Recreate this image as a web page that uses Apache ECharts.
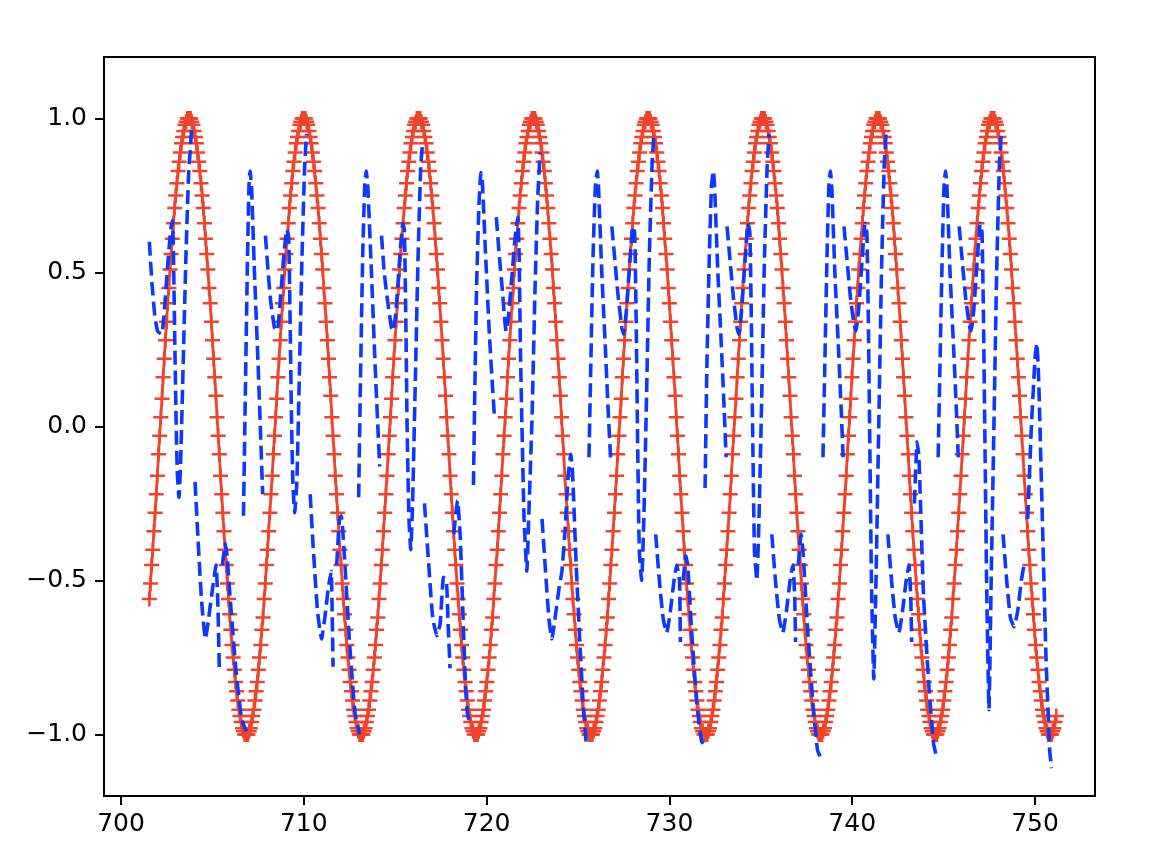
<!DOCTYPE html>
<html><head><meta charset="utf-8">
<script src="https://cdn.jsdelivr.net/npm/echarts@6/dist/echarts.min.js"></script>
<style>html,body{margin:0;padding:0;background:#fff}#c{width:1172px;height:866px}</style>
</head><body><div id="c"></div>
<script>
// tick labels
const xTicks = [700, 710, 720, 730, 740, 750];
const yTicks = [-1, -0.5, 0, 0.5, 1];

// red series: sampled at a fixed step from redStart (like np.arange)
const redStart = 701.55, redStep = 0.0628;
const redY = [
-0.56,-0.51,-0.45,-0.40,-0.34,-0.28,-0.22,-0.16,-0.09,-0.03,0.03,0.09,0.16,0.22,0.28,0.34,0.40,0.45,0.51,0.56,0.61,0.66,0.71,0.75,0.79,0.83,0.86,0.89,0.92,0.94,0.96,0.98,0.99,1.00,1.00,1.00,1.00,0.99,0.98,0.96,0.94,0.92,0.89,0.86,0.83,0.79,0.75,0.71,0.66,0.61,0.56,0.51,0.45,0.40,0.34,0.28,0.22,0.16,0.10,0.03,-0.03,-0.09,-0.16,-0.22,-0.28,-0.34,-0.40,-0.45,-0.51,-0.56,-0.61,-0.66,-0.71,-0.75,-0.79,-0.83,-0.86,-0.89,-0.92,-0.94,-0.96,-0.98,-0.99,-1.00,-1.00,-1.00,-1.00,-0.99,-0.98,-0.96,-0.94,-0.92,-0.89,-0.86,-0.83,-0.79,-0.75,-0.71,-0.66,-0.62,
-0.56,-0.51,-0.45,-0.40,-0.34,-0.28,-0.22,-0.16,-0.09,-0.03,0.03,0.09,0.16,0.22,0.28,0.34,0.40,0.45,0.51,0.56,0.61,0.66,0.71,0.75,0.79,0.83,0.86,0.89,0.92,0.94,0.96,0.98,0.99,1.00,1.00,1.00,1.00,0.99,0.98,0.96,0.94,0.92,0.89,0.86,0.83,0.79,0.75,0.71,0.66,0.61,0.56,0.51,0.45,0.40,0.34,0.28,0.22,0.16,0.10,0.03,-0.03,-0.09,-0.16,-0.22,-0.28,-0.34,-0.40,-0.45,-0.51,-0.56,-0.61,-0.66,-0.71,-0.75,-0.79,-0.83,-0.86,-0.89,-0.92,-0.94,-0.96,-0.98,-0.99,-1.00,-1.00,-1.00,-1.00,-0.99,-0.98,-0.96,-0.94,-0.92,-0.89,-0.86,-0.83,-0.79,-0.75,-0.71,-0.66,-0.62,
-0.56,-0.51,-0.45,-0.40,-0.34,-0.28,-0.22,-0.16,-0.09,-0.03,0.03,0.09,0.16,0.22,0.28,0.34,0.40,0.45,0.51,0.56,0.61,0.66,0.71,0.75,0.79,0.83,0.86,0.89,0.92,0.94,0.96,0.98,0.99,1.00,1.00,1.00,1.00,0.99,0.98,0.96,0.94,0.92,0.89,0.86,0.83,0.79,0.75,0.71,0.66,0.61,0.56,0.51,0.45,0.40,0.34,0.28,0.22,0.16,0.10,0.03,-0.03,-0.09,-0.16,-0.22,-0.28,-0.34,-0.40,-0.45,-0.51,-0.56,-0.61,-0.66,-0.71,-0.75,-0.79,-0.83,-0.86,-0.89,-0.92,-0.94,-0.96,-0.98,-0.99,-1.00,-1.00,-1.00,-1.00,-0.99,-0.98,-0.96,-0.94,-0.92,-0.89,-0.86,-0.83,-0.79,-0.75,-0.71,-0.66,-0.62,
-0.56,-0.51,-0.45,-0.40,-0.34,-0.28,-0.22,-0.16,-0.09,-0.03,0.03,0.09,0.16,0.22,0.28,0.34,0.40,0.45,0.51,0.56,0.61,0.66,0.71,0.75,0.79,0.83,0.86,0.89,0.92,0.94,0.96,0.98,0.99,1.00,1.00,1.00,1.00,0.99,0.98,0.96,0.94,0.92,0.89,0.86,0.83,0.79,0.75,0.71,0.66,0.61,0.56,0.51,0.45,0.40,0.34,0.28,0.22,0.16,0.10,0.03,-0.03,-0.09,-0.16,-0.22,-0.28,-0.34,-0.40,-0.45,-0.51,-0.56,-0.61,-0.66,-0.71,-0.75,-0.79,-0.83,-0.86,-0.89,-0.92,-0.94,-0.96,-0.98,-0.99,-1.00,-1.00,-1.00,-1.00,-0.99,-0.98,-0.96,-0.94,-0.92,-0.89,-0.86,-0.83,-0.79,-0.75,-0.71,-0.66,-0.62,
-0.56,-0.51,-0.45,-0.40,-0.34,-0.28,-0.22,-0.16,-0.09,-0.03,0.03,0.09,0.16,0.22,0.28,0.34,0.40,0.45,0.51,0.56,0.61,0.66,0.71,0.75,0.79,0.83,0.86,0.89,0.92,0.94,0.96,0.98,0.99,1.00,1.00,1.00,1.00,0.99,0.98,0.96,0.94,0.92,0.89,0.86,0.83,0.79,0.75,0.71,0.66,0.61,0.56,0.51,0.45,0.40,0.34,0.28,0.22,0.16,0.10,0.03,-0.03,-0.09,-0.16,-0.22,-0.28,-0.34,-0.40,-0.45,-0.51,-0.56,-0.61,-0.66,-0.71,-0.75,-0.79,-0.83,-0.86,-0.89,-0.92,-0.94,-0.96,-0.98,-0.99,-1.00,-1.00,-1.00,-1.00,-0.99,-0.98,-0.96,-0.94,-0.92,-0.89,-0.86,-0.83,-0.79,-0.75,-0.71,-0.66,-0.62,
-0.56,-0.51,-0.45,-0.40,-0.34,-0.28,-0.22,-0.16,-0.09,-0.03,0.03,0.09,0.16,0.22,0.28,0.34,0.40,0.45,0.51,0.56,0.61,0.66,0.71,0.75,0.79,0.83,0.86,0.89,0.92,0.94,0.96,0.98,0.99,1.00,1.00,1.00,1.00,0.99,0.98,0.96,0.94,0.92,0.89,0.86,0.83,0.79,0.75,0.71,0.66,0.61,0.56,0.51,0.45,0.40,0.34,0.28,0.22,0.16,0.10,0.03,-0.03,-0.09,-0.16,-0.22,-0.28,-0.34,-0.40,-0.45,-0.51,-0.56,-0.61,-0.66,-0.71,-0.75,-0.79,-0.83,-0.86,-0.89,-0.92,-0.94,-0.96,-0.98,-0.99,-1.00,-1.00,-1.00,-1.00,-0.99,-0.98,-0.96,-0.94,-0.92,-0.89,-0.86,-0.83,-0.79,-0.75,-0.71,-0.66,-0.62,
-0.56,-0.51,-0.45,-0.40,-0.34,-0.28,-0.22,-0.16,-0.09,-0.03,0.03,0.09,0.16,0.22,0.28,0.34,0.40,0.45,0.51,0.56,0.61,0.66,0.71,0.75,0.79,0.83,0.86,0.89,0.92,0.94,0.96,0.98,0.99,1.00,1.00,1.00,1.00,0.99,0.98,0.96,0.94,0.92,0.89,0.86,0.83,0.79,0.75,0.71,0.66,0.61,0.56,0.51,0.45,0.40,0.34,0.28,0.22,0.16,0.10,0.03,-0.03,-0.09,-0.16,-0.22,-0.28,-0.34,-0.40,-0.45,-0.51,-0.56,-0.61,-0.66,-0.71,-0.75,-0.79,-0.83,-0.86,-0.89,-0.92,-0.94,-0.96,-0.98,-0.99,-1.00,-1.00,-1.00,-1.00,-0.99,-0.98,-0.96,-0.94,-0.92,-0.89,-0.86,-0.83,-0.79,-0.75,-0.71,-0.66,-0.62,
-0.56,-0.51,-0.45,-0.40,-0.34,-0.28,-0.22,-0.16,-0.09,-0.03,0.03,0.09,0.16,0.22,0.28,0.34,0.40,0.45,0.51,0.56,0.61,0.66,0.71,0.75,0.79,0.83,0.86,0.89,0.92,0.94,0.96,0.98,0.99,1.00,1.00,1.00,1.00,0.99,0.98,0.96,0.94,0.92,0.89,0.86,0.83,0.79,0.75,0.71,0.66,0.61,0.56,0.51,0.45,0.40,0.34,0.28,0.22,0.16,0.10,0.03,-0.03,-0.09,-0.16,-0.22,-0.28,-0.34,-0.40,-0.45,-0.51,-0.56,-0.61,-0.66,-0.71,-0.75,-0.79,-0.83,-0.86,-0.89,-0.92,-0.94,-0.96,-0.98,-0.99,-1.00,-1.00,-1.00,-1.00,-0.99,-0.98,-0.96,-0.94
];

// blue series: traced pieces (x, y); gaps between pieces
const blue1 = [[701.55,0.60],[701.7,0.46],[701.85,0.36],[702.0,0.31],[702.22,0.30],[702.35,0.36],[702.55,0.52],[702.72,0.64],[702.82,0.67],[702.88,0.52],[702.95,0.25],[703.02,0.0],[703.08,-0.15],[703.17,-0.23],[703.26,-0.12],[703.4,0.2],[703.55,0.55],[703.7,0.82],[703.87,0.97]];
const blue2 = [[704.05,-0.18],[704.2,-0.35],[704.4,-0.56],[704.62,-0.69],[704.8,-0.62],[705.0,-0.53],[705.2,-0.45],[705.3,-0.58],[705.38,-0.79]];
const blue3 = [[705.55,-0.45],[705.7,-0.38],[705.8,-0.42],[706.0,-0.58],[706.3,-0.8],[706.6,-0.95],[706.85,-0.99]];
const blue4 = [[706.7,-0.29],[706.8,0.1],[706.92,0.55],[707.0,0.78],[707.06,0.83],[707.14,0.78],[707.3,0.5],[707.5,0.2],[707.65,-0.05],[707.75,-0.22]];
const blue5 = [[707.9,0.62],[708.05,0.5],[708.2,0.4],[708.4,0.32],[708.55,0.31],[708.7,0.4],[708.9,0.55],[709.07,0.64],[709.17,0.62],[709.25,0.35],[709.32,0.05],[709.4,-0.18],[709.5,-0.28],[709.62,-0.18],[709.75,0.15],[709.9,0.55],[710.05,0.85],[710.15,0.95]];
const blue6 = [[710.35,-0.22],[710.5,-0.38],[710.75,-0.6],[710.97,-0.69],[711.15,-0.62],[711.35,-0.52],[711.5,-0.47],[711.55,-0.6],[711.6,-0.78]];
const blue7 = [[711.8,-0.45],[711.95,-0.3],[712.05,-0.29],[712.2,-0.4],[712.5,-0.7],[712.8,-0.93],[713.05,-1.0]];
const blue8 = [[713.0,-0.23],[713.1,0.15],[713.22,0.55],[713.33,0.78],[713.41,0.83],[713.5,0.78],[713.7,0.5],[713.9,0.2],[714.05,0.0],[714.15,-0.13]];
const blue9 = [[714.25,0.62],[714.4,0.5],[714.6,0.4],[714.8,0.32],[714.9,0.31],[715.05,0.38],[715.25,0.55],[715.42,0.66],[715.5,0.64],[715.58,0.35],[715.65,0.0],[715.75,-0.3],[715.85,-0.4],[715.95,-0.25],[716.1,0.15],[716.25,0.55],[716.4,0.85],[716.5,0.92]];
const blue10 = [[716.6,-0.25],[716.8,-0.42],[717.05,-0.62],[717.28,-0.68],[717.46,-0.64],[717.64,-0.49],[717.8,-0.5],[717.9,-0.65],[718.0,-0.785]];
const blue11 = [[718.2,-0.35],[718.41,-0.24],[718.55,-0.35],[718.7,-0.6],[718.85,-0.85],[718.95,-0.93],[719.1,-0.97]];
const blue12 = [[719.28,-0.19],[719.35,0.10],[719.45,0.45],[719.58,0.72],[719.69,0.825],[719.76,0.80],[719.95,0.55],[720.15,0.30],[720.30,0.15],[720.43,0.03]];
const blue13 = [[720.53,0.68],[720.7,0.55],[720.85,0.45],[721.0,0.34],[721.07,0.31],[721.2,0.36],[721.4,0.50],[721.6,0.64],[721.71,0.68],[721.78,0.55],[721.85,0.25],[721.93,0.01],[722.05,-0.30],[722.2,-0.47],[722.3,-0.30],[722.48,0.02],[722.65,0.45],[722.8,0.75],[722.93,0.89]];
const blue14 = [[723.03,-0.30],[723.2,-0.45],[723.4,-0.62],[723.57,-0.69],[723.75,-0.62],[723.95,-0.53],[724.12,-0.47],[724.3,-0.33],[724.45,-0.17],[724.6,-0.09],[724.7,-0.15],[724.9,-0.45],[725.1,-0.7],[725.3,-0.92],[725.45,-1.03]];
const blue15 = [[725.6,-0.1],[725.7,0.2],[725.82,0.55],[725.95,0.78],[726.05,0.83],[726.12,0.78],[726.3,0.5],[726.5,0.25],[726.65,0.05],[726.78,-0.1]];
const blue16 = [[726.85,0.65],[727.0,0.55],[727.2,0.42],[727.4,0.32],[727.5,0.3],[727.65,0.38],[727.85,0.55],[728.0,0.65],[728.1,0.63],[728.18,0.35],[728.25,0.0],[728.35,-0.4],[728.48,-0.5],[728.6,-0.3],[728.75,0.1],[728.9,0.55],[729.05,0.85],[729.15,0.95]];
const blue17 = [[729.25,-0.35],[729.45,-0.5],[729.65,-0.62],[729.85,-0.67],[730.05,-0.6],[730.25,-0.5],[730.4,-0.45],[730.55,-0.5],[730.6,-0.7]];
const blue18 = [[730.75,-0.5],[730.9,-0.42],[731.0,-0.45],[731.2,-0.65],[731.5,-0.9],[731.75,-1.02],[731.95,-1.04]];
const blue19 = [[731.95,-0.2],[732.05,0.2],[732.18,0.55],[732.3,0.78],[732.4,0.83],[732.47,0.78],[732.65,0.5],[732.85,0.25],[733.0,0.05],[733.1,-0.1]];
const blue20 = [[733.15,0.65],[733.3,0.55],[733.5,0.42],[733.7,0.32],[733.8,0.3],[733.95,0.38],[734.15,0.55],[734.3,0.66],[734.4,0.63],[734.48,0.35],[734.55,0.0],[734.65,-0.4],[734.78,-0.5],[734.9,-0.3],[735.05,0.1],[735.2,0.55],[735.35,0.85],[735.45,0.95]];
const blue21 = [[735.6,-0.35],[735.8,-0.5],[736.0,-0.62],[736.2,-0.67],[736.4,-0.6],[736.6,-0.5],[736.75,-0.45],[736.85,-0.55],[736.9,-0.7]];
const blue22 = [[737.05,-0.45],[737.2,-0.35],[737.3,-0.4],[737.55,-0.65],[737.85,-0.9],[738.1,-1.05],[738.3,-1.08]];
const blue23 = [[738.4,-0.1],[738.5,0.2],[738.62,0.55],[738.72,0.78],[738.8,0.83],[738.88,0.78],[739.05,0.5],[739.25,0.25],[739.4,0.05],[739.5,-0.1]];
const blue24 = [[739.55,0.65],[739.7,0.55],[739.9,0.42],[740.1,0.33],[740.2,0.31],[740.35,0.38],[740.55,0.55],[740.7,0.66],[740.8,0.63],[740.88,0.35],[740.95,0.0],[741.05,-0.5],[741.18,-0.82],[741.3,-0.5],[741.45,0.0],[741.6,0.5],[741.75,0.85],[741.85,0.95]];
const blue25 = [[741.95,-0.35],[742.15,-0.5],[742.35,-0.62],[742.55,-0.67],[742.75,-0.6],[742.95,-0.5],[743.1,-0.45],[743.2,-0.55],[743.25,-0.7]];
const blue26 = [[743.4,-0.25],[743.55,-0.05],[743.65,-0.1],[743.9,-0.55],[744.2,-0.85],[744.45,-1.03],[744.6,-1.07]];
const blue27 = [[744.7,-0.1],[744.8,0.2],[744.92,0.55],[745.02,0.78],[745.1,0.83],[745.18,0.78],[745.35,0.5],[745.55,0.25],[745.7,0.05],[745.8,-0.1]];
const blue28 = [[745.85,0.65],[746.0,0.55],[746.2,0.42],[746.4,0.33],[746.5,0.31],[746.65,0.38],[746.85,0.55],[747.0,0.66],[747.1,0.63],[747.18,0.35],[747.25,0.0],[747.35,-0.5],[747.48,-0.92],[747.6,-0.5],[747.75,0.0],[747.9,0.5],[748.05,0.85],[748.15,0.95]];
const blue29 = [[748.25,-0.35],[748.45,-0.5],[748.65,-0.62],[748.85,-0.65],[749.05,-0.6],[749.25,-0.5],[749.4,-0.45]];
const blue30 = [[749.6,-0.3],[749.8,0.0],[750.0,0.22],[750.1,0.27],[750.2,0.15],[750.4,-0.3],[750.6,-0.75],[750.8,-1.05],[750.9,-1.11]];
const bluePieces = [blue1,blue2,blue3,blue4,blue5,blue6,blue7,blue8,blue9,blue10,blue11,blue12,blue13,blue14,blue15,blue16,blue17,blue18,blue19,blue20,blue21,blue22,blue23,blue24,blue25,blue26,blue27,blue28,blue29,blue30];

const redData = redY.map((v, i) => [redStart + i * redStep, v]);
const blueData = [];
bluePieces.forEach((p, i) => { if (i) blueData.push([null, null]); p.forEach(pt => blueData.push(pt)); });

const FONT = 'DejaVu Sans';
const chart = echarts.init(document.getElementById('c'), null, {renderer: 'canvas'});
const plus = 'path://M12.5,0H17.5V12.5H30V17.5H17.5V30H12.5V17.5H0V12.5H12.5Z';
chart.setOption({
  animation: false,
  backgroundColor: '#fff',
  grid: {left: 104, top: 57, right: 77, bottom: 70, show: true, borderColor: '#000', borderWidth: 2, backgroundColor: 'transparent'},
  xAxis: {
    type: 'value', min: 699.07, max: 753.28,
    axisLine: {show: true, onZero: false, lineStyle: {color: '#000', width: 2}},
    axisTick: {show: true, inside: false, length: 9, lineStyle: {color: '#000', width: 2}, customValues: xTicks},
    axisLabel: {show: true, margin: 16, color: '#000', fontSize: 25, fontFamily: FONT, customValues: xTicks, formatter: v => String(Math.round(v))},
    splitLine: {show: false}
  },
  yAxis: {
    type: 'value', min: -1.2, max: 1.2,
    axisLine: {show: true, onZero: false, lineStyle: {color: '#000', width: 2}},
    axisTick: {show: true, inside: false, length: 9, lineStyle: {color: '#000', width: 2}, customValues: yTicks},
    axisLabel: {show: true, margin: 17, color: '#000', fontSize: 25, fontFamily: FONT, customValues: yTicks,
      formatter: v => (v < 0 ? '\u2212' : '') + Math.abs(v).toFixed(1)},
    splitLine: {show: false}
  },
  series: [
    {type: 'line', data: redData, showSymbol: true, showAllSymbol: true, symbol: plus, symbolSize: 15,
      itemStyle: {color: '#f0432b'}, lineStyle: {color: '#f0432b', width: 2.8}, sampling: null, z: 2},
    {type: 'line', data: blueData, showSymbol: false, connectNulls: false, smooth: 0.15,
      lineStyle: {color: '#0d39ff', width: 3.6, type: [14, 6]}, z: 3}
  ]
});
</script></body></html>
